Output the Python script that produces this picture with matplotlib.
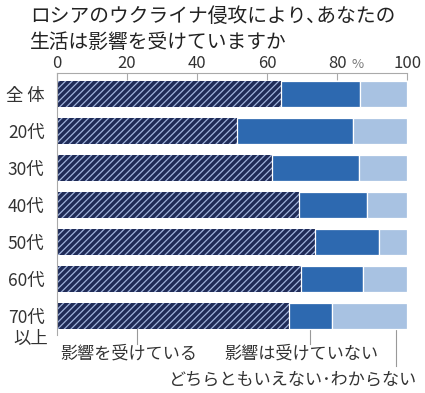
import matplotlib
matplotlib.use('Agg')
import matplotlib.pyplot as plt
import numpy as np

plt.rcParams['font.family'] = ['Noto Sans CJK JP', 'DejaVu Sans']
plt.rcParams['hatch.linewidth'] = 0.9

# data (percent)
groups = ['全 体', '20代', '30代', '40代', '50代', '60代', '70代']
affected = [63.9, 51.4, 61.3, 69.1, 73.8, 69.7, 66.2]
not_affected = [22.6, 33.0, 25.0, 19.3, 18.1, 17.6, 12.4]
unknown = [13.5, 15.6, 13.7, 11.6, 8.1, 12.7, 21.4]
series_names = ['影響を受けている', '影響は受けていない', 'どちらともいえない･わからない']
xticks = [0, 20, 40, 60, 80, 100]

c_dark = '#1f2b57'
c_hatch = '#9fb2da'
c_mid = '#2d69b0'
c_light = '#a8c2e2'
grey = '#999999'
txt = '#333333'

fig = plt.figure(figsize=(4.25, 3.93), dpi=100)
ax = fig.add_axes([0.134, 0.148, 0.824, 0.666])

y = np.arange(len(groups))
h = 0.69
aff = np.array(affected)
nota = np.array(not_affected)
unk = np.array(unknown)

ax.barh(y, aff, height=h, color=c_dark, edgecolor=c_hatch, linewidth=0, hatch='/////', zorder=2)
ax.barh(y, nota, left=aff, height=h, color=c_mid, edgecolor='white', linewidth=0.9, zorder=3)
ax.barh(y, unk, left=aff + nota, height=h, color=c_light, edgecolor='white', linewidth=0.9, zorder=3)

ax.set_xlim(0, 100)
ax.set_ylim(len(groups) - 1 + 0.51, -0.57)

for s in ['right', 'bottom']:
    ax.spines[s].set_visible(False)
for s in ['top', 'left']:
    ax.spines[s].set_color('#aaaaaa')
    ax.spines[s].set_linewidth(0.8)

ax.xaxis.tick_top()
ax.set_xticks(xticks)
ax.set_xticklabels([str(v) for v in xticks], fontsize=12, color=txt)
ax.tick_params(axis='x', direction='in', length=5, width=0.8, color='#aaaaaa', pad=1)
ax.text(84.0, -0.62, '%', fontsize=9.5, color='#777777', ha='left', va='bottom', clip_on=False)

ax.set_yticks(y)
ax.set_yticklabels(groups, fontsize=12.5, color=txt)
ax.tick_params(axis='y', length=0, pad=9)
ax.text(-2.6, y[-1] + 0.63, '以上', fontsize=12.5, color=txt, ha='right', va='center', clip_on=False)

# leader lines and labels for the series
last = len(groups) - 1
lx = [22.8, aff[last] + nota[last] / 2, 96.9]
ly = [0.76, 0.76, 1.35]
for xv, yl in zip(lx, ly):
    ax.plot([xv, xv], [last + h / 2, last + yl], color=grey, lw=0.8, clip_on=False)

fig.text(60 / 425, 1 - 354 / 393, series_names[0], fontsize=12.3, color=txt, ha='left', va='center')
fig.text(224 / 425, 1 - 354 / 393, series_names[1], fontsize=12.3, color=txt, ha='left', va='center')
fig.text(416 / 425, 1 - 380 / 393, series_names[2], fontsize=12.3, color=txt, ha='right', va='center')

fig.text(30 / 425, 1 - 16 / 393, 'ロシアのウクライナ侵攻により､あなたの', fontsize=14.2, color='#222222',
         ha='left', va='center')
fig.text(30 / 425, 1 - 43 / 393, '生活は影響を受けていますか', fontsize=14.2, color='#222222',
         ha='left', va='center')

fig.savefig('out.png', dpi=100)
